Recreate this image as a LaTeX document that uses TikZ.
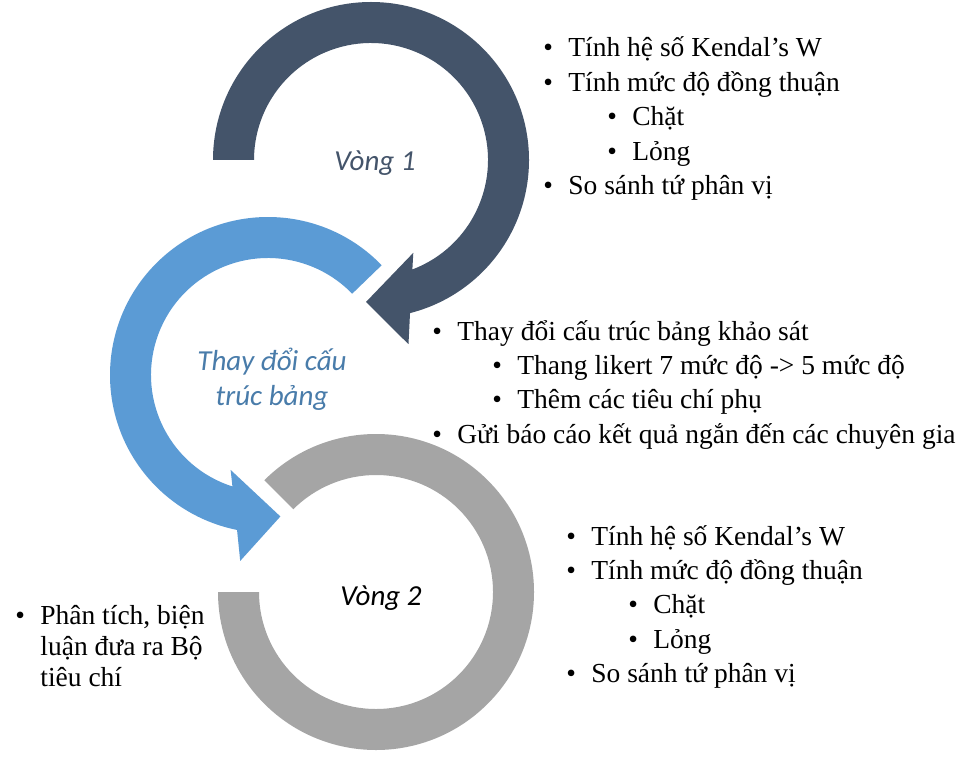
\documentclass[tikz,border=0pt]{standalone}
\usepackage{fontspec}
\usepackage{tikz}
\usetikzlibrary{positioning}
\setmainfont{Liberation Serif}
\newfontfamily\chunhan{Carlito}
\definecolor{xanhdam}{HTML}{44546A}
\definecolor{xanhlam}{HTML}{5B9BD5}
\definecolor{xamnhat}{HTML}{A5A5A5}
\tikzset{vong/.style={fill=#1, draw=none}}
\tikzset{muc/.style={anchor=base west, inner sep=0pt, font=\fontsize{13.75}{17}\selectfont}}
\tikzset{nhan/.style={align=center, inner sep=0pt, font=\chunhan\itshape\fontsize{14.5}{17.5}\selectfont}}
\newcommand{\dau}{\makebox[12.5pt][l]{\textbullet}}

\begin{document}
\begin{tikzpicture}[x=0.5pt, y=0.5pt]
    \useasboundingbox[fill=white] (0,0) rectangle (967,756);

    % vong 1
    \begin{scope}[shift={(371,596)}]
        \fill[vong=xanhdam] (180:158) arc[start angle=180, end angle=-75.7, radius=158]
            -- (-78.5:188) -- (-92:142) -- (-65.5:102) -- (-69.3:117)
            arc[start angle=-69.3, end angle=180, radius=117] -- cycle;
    \end{scope}
    % thay doi
    \begin{scope}[shift={(268,381)}]
        \fill[vong=xanhlam] (44:158) arc[start angle=44, end angle=258.7, radius=158]
            -- (261.5:188) -- (275:142) -- (248.5:102) -- (252.3:117)
            arc[start angle=252.3, end angle=44, radius=117] -- cycle;
    \end{scope}
    % vong 2
    \begin{scope}[shift={(376,164)}]
        \fill[vong=xamnhat] (135:158) arc[start angle=135, end angle=-180, radius=158]
            -- (180:117) arc[start angle=-180, end angle=135, radius=117] -- cycle;
    \end{scope}

    \node[nhan, text=xanhdam] (v1) at (375,593) {Vòng 1};
    \node[nhan, text=xanhlam!80!black] (tdb) at (272,377) {Thay đổi cấu\\trúc bảng};
    \node[nhan, text=black] (v2) at (381,158) {Vòng 2};

    \node[muc] (a1) at (543,699) {\dau Tính hệ số Kendal’s W};
    \node[below=17.2pt of a1.base west, muc] (a2) {\dau Tính mức độ đồng thuận};
    \node[below=17.2pt of a2.base west, xshift=32pt, muc] (a3) {\dau Chặt};
    \node[below=17.2pt of a3.base west, muc] (a4) {\dau Lỏng};
    \node[below=17.2pt of a4.base west, xshift=-32pt, muc] (a5) {\dau So sánh tứ phân vị};

    \node[muc] (b1) at (432,416) {\dau Thay đổi cấu trúc bảng khảo sát};
    \node[below=17.2pt of b1.base west, xshift=30pt, muc] (b2) {\dau Thang likert 7 mức độ -> 5 mức độ};
    \node[below=17.2pt of b2.base west, muc] (b3) {\dau Thêm các tiêu chí phụ};
    \node[below=17.2pt of b3.base west, xshift=-30pt, muc] (b4) {\dau Gửi báo cáo kết quả ngắn đến các chuyên gia};

    \node[muc] (c1) at (566,211) {\dau Tính hệ số Kendal’s W};
    \node[below=17.2pt of c1.base west, muc] (c2) {\dau Tính mức độ đồng thuận};
    \node[below=17.2pt of c2.base west, xshift=31pt, muc] (c3) {\dau Chặt};
    \node[below=17.2pt of c3.base west, muc] (c4) {\dau Lỏng};
    \node[below=17.2pt of c4.base west, xshift=-31pt, muc] (c5) {\dau So sánh tứ phân vị};

    \node[muc] (d1) at (15,132) {\dau Phân tích, biện};
    \node[below=15.5pt of d1.base west, xshift=12.5pt, muc] (d2) {luận đưa ra Bộ};
    \node[below=15.5pt of d2.base west, muc] (d3) {tiêu chí};
\end{tikzpicture}
\end{document}
